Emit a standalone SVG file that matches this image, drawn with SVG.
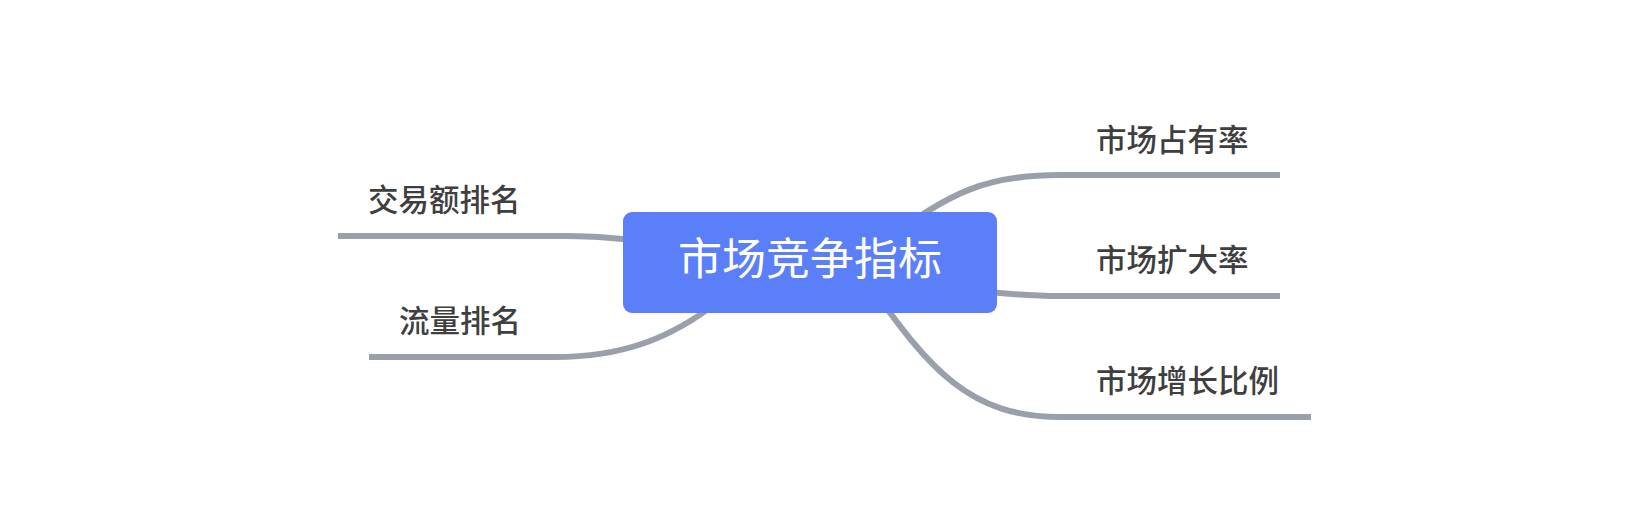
<svg xmlns="http://www.w3.org/2000/svg" width="1650" height="528" viewBox="0 0 1650 528">
<style>
.conn{fill:none;stroke:#99A0A9;stroke-width:6;stroke-linecap:butt}
.lbl{font-family:"Noto Sans CJK SC","Noto Sans",sans-serif;font-size:30.5px;font-weight:500;fill:#3F3F3F}
.root{font-family:"Noto Sans CJK SC","Noto Sans",sans-serif;font-size:44px;fill:#FFFFFF}
</style>
<rect width="1650" height="528" fill="#FFFFFF"/>
<g id="connectors">
<path class="conn" d="M 338 236 L 565 236 C 600 236 620 239 660 242"/>
<path class="conn" d="M 369 357 L 555 357 C 620 357 670 340 720 300"/>
<path class="conn" d="M 880 245 C 950 190 990 175 1060 175 L 1280 175"/>
<path class="conn" d="M 960 289 C 1000 293 1020 296 1060 296 L 1280 296"/>
<path class="conn" d="M 870 285 C 930 370 970 417 1060 417 L 1311 417"/>
</g>
<g id="root">
<rect x="623" y="212" width="374" height="101" rx="9" fill="#5A7FF8"/>
<text class="root" x="810" y="275" text-anchor="middle">市场竞争指标</text>
</g>
<g id="n1"><text class="lbl" x="368" y="211">交易额排名</text></g>
<g id="n2"><text class="lbl" x="399" y="332">流量排名</text></g>
<g id="n3"><text class="lbl" x="1096" y="151">市场占有率</text></g>
<g id="n4"><text class="lbl" x="1096" y="271">市场扩大率</text></g>
<g id="n5"><text class="lbl" x="1096" y="392">市场增长比例</text></g>
</svg>
